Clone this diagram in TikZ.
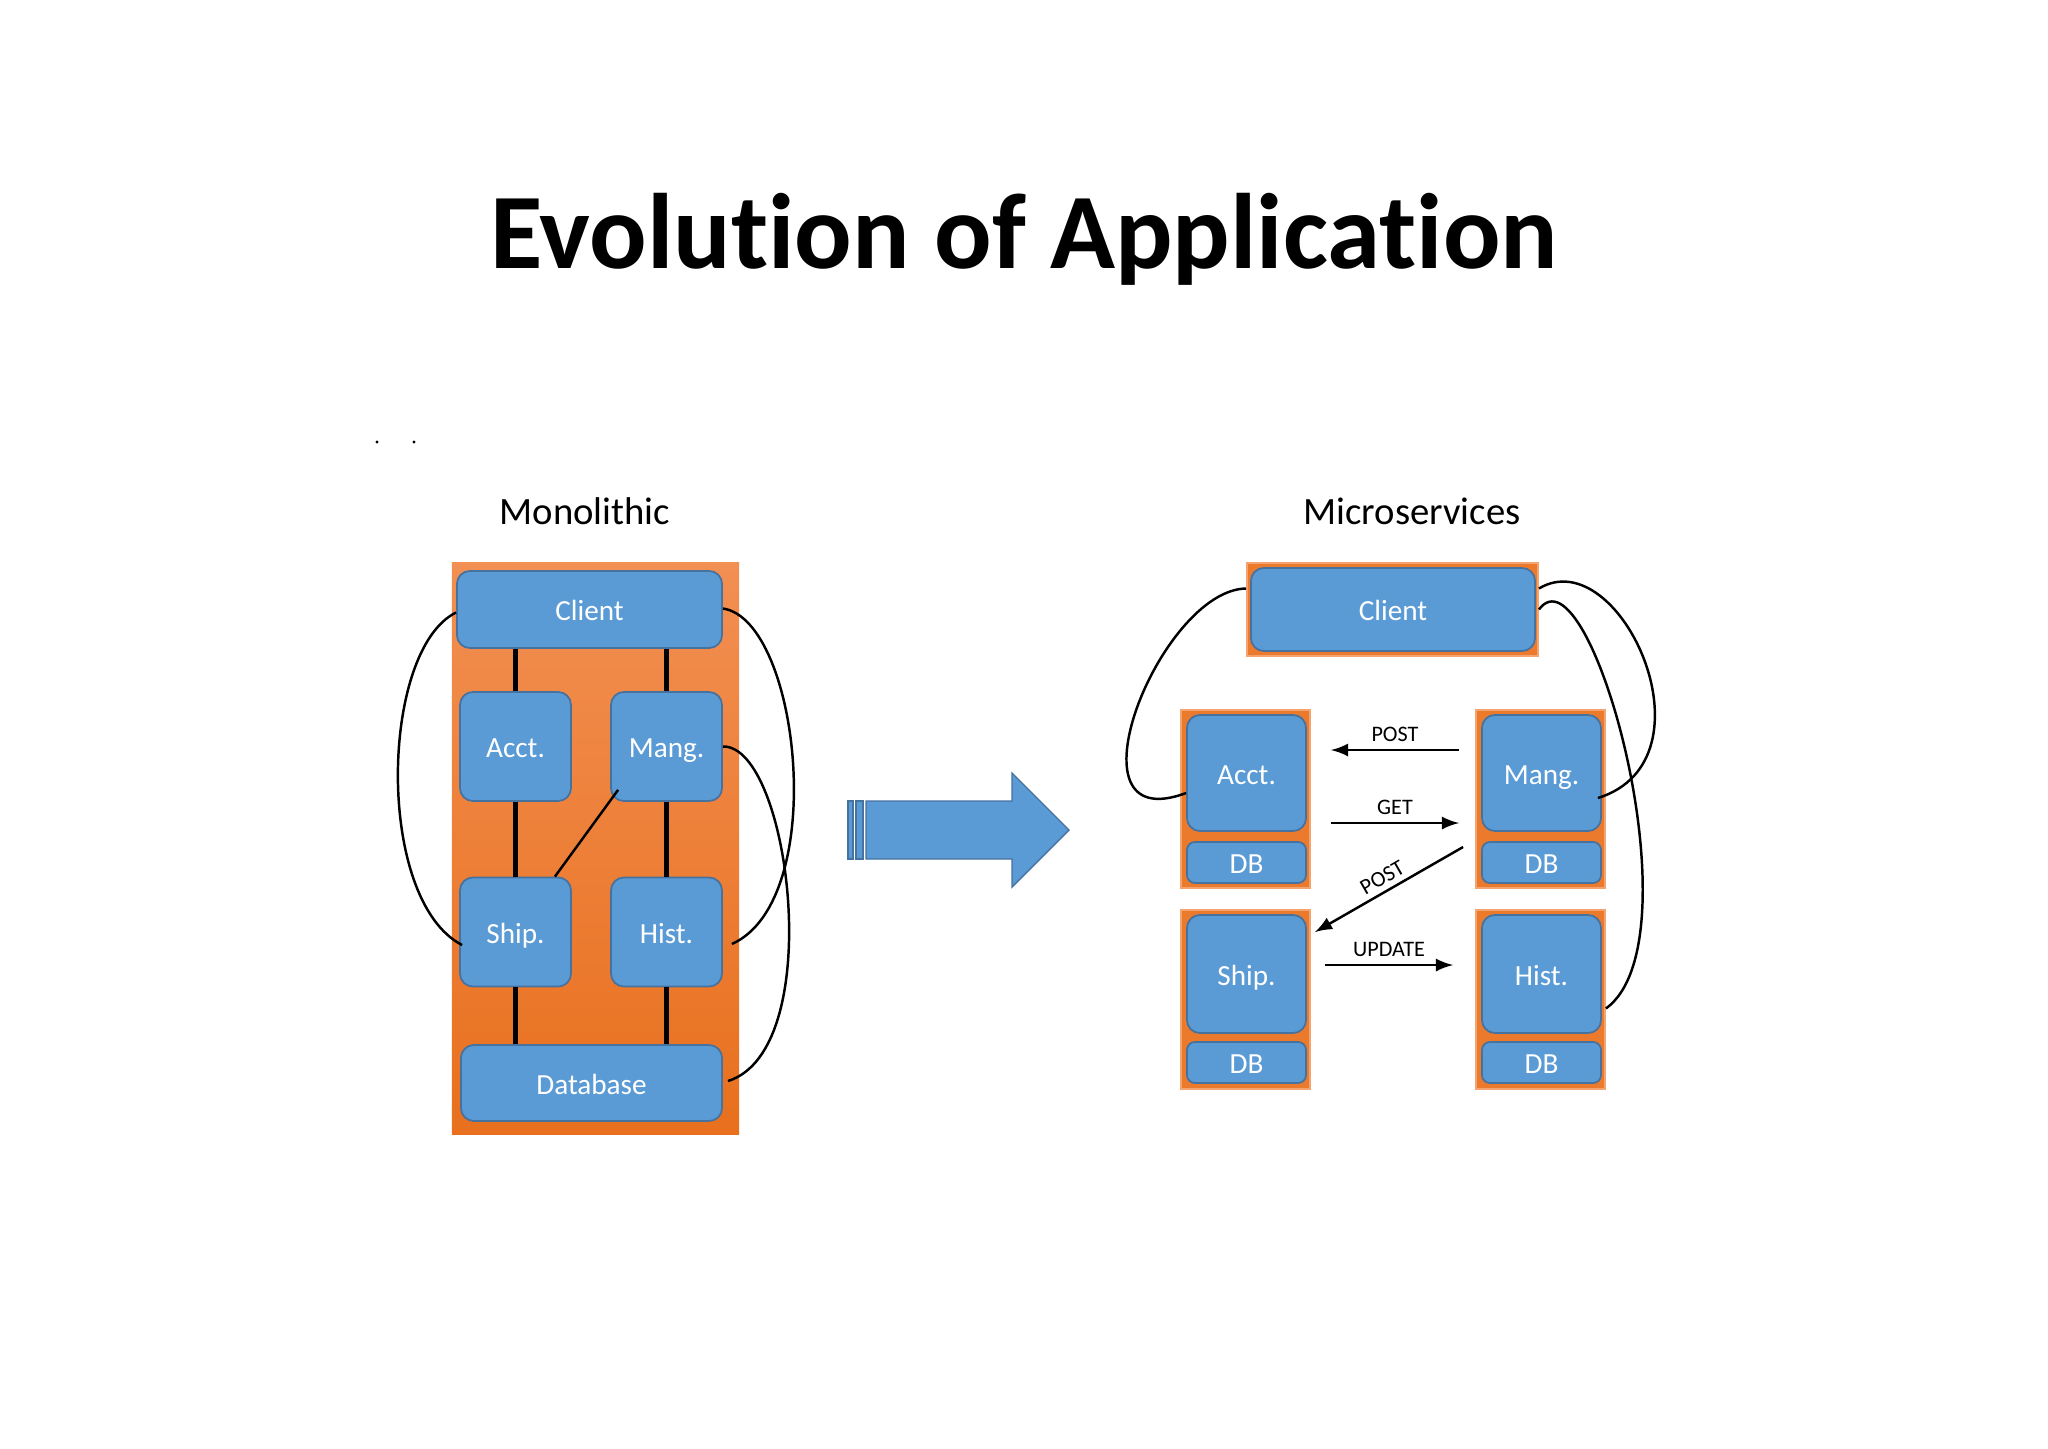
\documentclass[tikz,border=0pt]{standalone}
\usepackage{fontspec}
\setmainfont{Carlito}[Ligatures=NoCommon]
\definecolor{boxblue}{RGB}{91,155,213}
\definecolor{boxline}{RGB}{70,114,160}
\definecolor{monotop}{RGB}{242,143,82}
\definecolor{monobot}{RGB}{232,112,30}
\definecolor{svcorange}{RGB}{236,122,44}
\definecolor{svcline}{RGB}{244,164,112}
\begin{document}
\begin{tikzpicture}[x=0.01cm,y=-0.01cm]
\tikzstyle{every node}+=[inner sep=0pt]
\tikzstyle{blue box}=[draw=boxline, line width=0.5pt, fill=boxblue, rounded corners=0.13cm, text=white, font=\fontsize{8.3}{10}\selectfont, text height=0.644em, text depth=0pt]
\tikzstyle{db box}=[blue box, rounded corners=0.08cm]
\tikzstyle{svc frame}=[draw=svcline, line width=0.5pt, fill=svcorange]
\tikzstyle{bus}=[line width=1.4pt]
\tikzstyle{wire}=[line width=0.7pt]
\tikzstyle{msg}=[line width=0.7pt, -latex]
\tikzstyle{msg label}=[font=\fontsize{6.3}{8}\selectfont]
\tikzstyle{heading}=[font=\fontsize{11}{13}\selectfont, anchor=base]
\useasboundingbox (0,0) rectangle (2048,1448);
\fill [white] (0,0) rectangle (2048,1448);
\node [font=\fontsize{30.5}{36}\selectfont\bfseries, anchor=base] (title) at (1024,268) {Evolution of Application};
\fill (377,442) circle (1.6);
\fill (414,442) circle (1.6);
\node [heading] (monolabel) at (585,524) {Monolithic};
\node [heading] (microlabel) at (1412,524) {Microservices};
\node [top color=monotop, bottom color=monobot, minimum width=2.87cm, minimum height=5.71cm] (mono) at (595.5,848.5) {};
\node [blue box, minimum width=2.65cm, minimum height=0.77cm] (client) at (589.5,609.5) {Client};
\node [blue box, minimum width=1.11cm, minimum height=1.09cm] (acct) at (515.5,746.5) {Acct.};
\node [blue box, minimum width=1.11cm, minimum height=1.09cm] (mang) at (666.5,746.5) {Mang.};
\node [blue box, minimum width=1.11cm, minimum height=1.09cm] (ship) at (515.5,932) {Ship.};
\node [blue box, minimum width=1.11cm, minimum height=1.09cm] (hist) at (666.5,932) {Hist.};
\node [blue box, minimum width=2.61cm, minimum height=0.76cm] (database) at (591.5,1083) {Database};
\draw [bus] (acct.north) -- (acct.north |- client.south);
\draw [bus] (mang.north) -- (mang.north |- client.south);
\draw [bus] (acct.south) -- (ship.north);
\draw [bus] (mang.south) -- (hist.north);
\draw [bus] (ship.south) -- (ship.south |- database.north);
\draw [bus] (hist.south) -- (hist.south |- database.north);
\draw [wire] ([shift={(8,-12)}]mang.south west) -- ([shift={(-17,0)}]ship.north east);
\draw [wire] ([shift={(0,3)}]client.west) .. controls (380,650) and (375,900) .. ([shift={(3,13)}]ship.west);
\draw [wire] ([shift={(0,-1)}]client.east) .. controls (800,620) and (830,900) .. ([shift={(9,12)}]hist.east);
\draw [wire] (mang.east) .. controls (790,745) and (828,1050) .. ([shift={(5,-2)}]database.east);
\filldraw [fill=boxblue, draw=boxline, line width=0.4pt] (866,801) -- (1012,801) -- (1012,773) -- (1069,830) -- (1012,887) -- (1012,859) -- (866,859) -- cycle;
\filldraw [fill=boxblue, draw=boxline, line width=0.4pt] (848,801) rectangle (853,859);
\filldraw [fill=boxblue, draw=boxline, line width=0.4pt] (856,801) rectangle (863,859);
\node [svc frame, minimum width=2.91cm, minimum height=0.93cm] (clientbox) at (1392.5,609.5) {};
\node [blue box, minimum width=2.84cm, minimum height=0.83cm] (mclient) at (1393,609.5) {Client};
\node [svc frame, minimum width=1.29cm, minimum height=1.78cm] (acctbox) at (1245.5,799) {};
\node [blue box, minimum width=1.19cm, minimum height=1.16cm] (macct) at (1246.5,773) {Acct.};
\node [db box, minimum width=1.19cm, minimum height=0.41cm] (acctdb) at (1246.5,862.5) {DB};
\node [svc frame, minimum width=1.29cm, minimum height=1.78cm] (mangbox) at (1540.5,799) {};
\node [blue box, minimum width=1.19cm, minimum height=1.16cm] (mmang) at (1541.5,773) {Mang.};
\node [db box, minimum width=1.19cm, minimum height=0.41cm] (mangdb) at (1541.5,862.5) {DB};
\node [svc frame, minimum width=1.29cm, minimum height=1.79cm] (shipbox) at (1245.5,999.5) {};
\node [blue box, minimum width=1.19cm, minimum height=1.18cm] (mship) at (1246.5,974) {Ship.};
\node [db box, minimum width=1.19cm, minimum height=0.41cm] (shipdb) at (1246.5,1062.5) {DB};
\node [svc frame, minimum width=1.29cm, minimum height=1.79cm] (histbox) at (1540.5,999.5) {};
\node [blue box, minimum width=1.19cm, minimum height=1.18cm] (mhist) at (1541.5,974) {Hist.};
\node [db box, minimum width=1.19cm, minimum height=0.41cm] (histdb) at (1541.5,1062.5) {DB};
\draw [msg] ([shift={(-16,-49)}]mangbox.west) -- node [msg label, above=0.07cm] {POST} ([shift={(20,-49)}]acctbox.east);
\draw [msg] ([shift={(20,24)}]acctbox.east) -- node [msg label, above=0.07cm] {GET} ([shift={(-16,24)}]mangbox.west);
\draw [msg] ([shift={(-12,48)}]mangbox.west) -- node [msg label, sloped, above=0.05cm] {POST} ([shift={(4,23)}]shipbox.north east);
\draw [msg] ([shift={(14,-34.5)}]shipbox.east) -- node [msg label, above=0.07cm] {UPDATE} ([shift={(-22,-34.5)}]histbox.west);
\draw [wire] ([shift={(0,-21)}]clientbox.west) .. controls (1160,590) and (1060,840) .. ([shift={(0,20)}]macct.west);
\draw [wire] ([shift={(0,-21)}]clientbox.east) .. controls (1620,540) and (1720,760) .. ([shift={(-4,25)}]mmang.east);
\draw [wire] (clientbox.east) .. controls (1590,540) and (1700,940) .. ([shift={(0,9)}]histbox.east);
\end{tikzpicture}
\end{document}
